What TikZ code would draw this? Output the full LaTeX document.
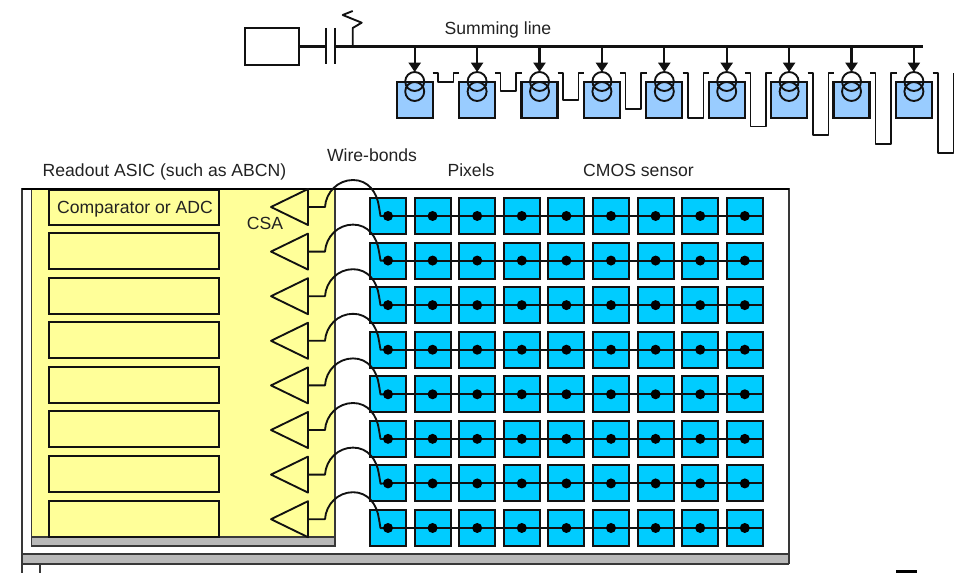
\documentclass[tikz,border=0pt]{standalone}
\usepackage{fontspec}
\setmainfont{Liberation Sans}
\usetikzlibrary{arrows.meta}
\definecolor{asicyellow}{HTML}{FFFF99}
\definecolor{bandgray}{HTML}{B8B8B8}
\definecolor{edgegray}{HTML}{383838}
\definecolor{pixelcyan}{HTML}{00CCFF}
\definecolor{padblue}{HTML}{99CCFF}
\definecolor{inkblack}{HTML}{111111}
\definecolor{labelink}{HTML}{222222}
\tikzset{
  wire/.style={draw=inkblack,line width=1.6pt,line join=round},
  thinwire/.style={draw=inkblack,line width=1.4pt,line join=round},
  edgeline/.style={draw=edgegray,line width=1.4pt},
  label/.style={text=labelink,font=\fontsize{13.2}{15}\selectfont,inner sep=0pt},
  boxcell/.style={draw=inkblack,line width=1.6pt,fill=asicyellow,minimum width=127.5pt,minimum height=27pt,inner sep=0pt,outer sep=0pt},
  pixelcell/.style={draw=inkblack,line width=1.4pt,fill=pixelcyan,minimum width=27pt,minimum height=27pt,inner sep=0pt,outer sep=0pt},
  padcell/.style={draw=inkblack,line width=1.6pt,fill=padblue,minimum width=27pt,minimum height=27.5pt,inner sep=0pt,outer sep=0pt},
  dotmark/.style={circle,fill=black,minimum size=7.5pt,inner sep=0pt,outer sep=0pt},
  coil/.style={circle,draw=inkblack,line width=1.4pt,minimum size=14.25pt,inner sep=0pt,outer sep=0pt},
  downarrow/.style={wire,-{Triangle[length=7pt,width=9pt]}}
}
\begin{document}
\begin{tikzpicture}[x=0.75pt,y=-0.75pt]
\useasboundingbox (0,0) rectangle (960,573);
% outer frame and bottom band
\fill[bandgray] (22,554) rectangle (789,564);
\draw[edgeline] (22,573) -- (22,189) -- (789,189) -- (789,564);
\draw[edgeline] (22,554) -- (789,554);
\draw[edgeline] (22,564) -- (789,564);
\draw[edgeline] (40,564) -- (40,573);
% ASIC
\fill[asicyellow] (31.5,190) rectangle (335,537);
\fill[bandgray] (31.5,537) rectangle (335,546);
\draw[edgeline] (31.5,190) -- (31.5,546) -- (335,546) -- (335,190);
\draw[edgeline] (31.5,537) -- (335,537);
\node[boxcell,minimum height=26pt] (b0) at (134,207.5) {};
\foreach \r in {1,...,7}{
  \node[boxcell] (b\r) at (134,{251+44.6*(\r-1)}) {};
}
\draw[line width=1.7pt,draw=black] (22,189) -- (789,189);
% pixels
\foreach \r in {0,...,7}{
  \foreach \c in {0,...,8}{
    \node[pixelcell] (p\r-\c) at ({388+44.6*\c},{216+44.57*\r}) {};
  }
}
% triangles, wire-bonds, row lines, dots
\foreach \r in {0,...,7}{
  \pgfmathsetmacro{\ty}{207+44.6*\r}
  \coordinate (base\r) at (308,\ty);
  \draw[wire,line width=1.4pt] (308,\ty-18) -- (271,\ty) -- (308,\ty+18) -- cycle;
  \draw[thinwire] (base\r) -- (325,\ty) .. controls (326,\ty-15) and (338,\ty-27) .. (353,\ty-27)
    .. controls (368,\ty-27) and (377,\ty-15) .. (379,\ty) -- (380.5,\ty+9) coordinate (entry\r) -- (p\r-0.center);
  \draw[thinwire] (p\r-0.center) -- (p\r-8.east);
  \foreach \c in {0,...,8}{
    \node[dotmark] at (p\r-\c.center) {};
  }
}
% top circuit
\node[draw=inkblack,line width=1.6pt,minimum width=40.5pt,minimum height=27.5pt,inner sep=0pt,outer sep=0pt] (src) at (272,46.5) {};
\coordinate (capa) at (326,46.5);
\coordinate (capb) at (335,46.5);
\coordinate (busend) at (923,46.5);
\coordinate (stub) at (352.7,46.5);
\draw[wire] (src.east) -- (capa);
\draw[wire] (capa |- 0,28) -- (capa |- 0,64);
\draw[wire] (capb |- 0,28) -- (capb |- 0,64);
\draw[wire] (capb) -- (busend);
\draw[thinwire] (stub) -- (352.7,28) -- (361.7,22.7) -- (342.7,15) -- (352.7,11);
\foreach \i in {0,...,8}{
  \pgfmathsetmacro{\cx}{414.7+62.4*\i}
  \pgfmathsetmacro{\lx}{438+62.5*\i}
  \pgfmathsetmacro{\rx}{453.5+62.5*\i}
  \pgfmathsetmacro{\by}{82+8.9*\i}
  \node[padcell] (pad\i) at (\cx,100) {};
  \node[coil] (up\i) at (\cx,81.5) {};
  \node[coil] (lo\i) at (\cx,91.5) {};
  \coordinate (bus\i) at (\cx,46.5);
  \draw[downarrow] (bus\i) -- (up\i.north);
  \ifnum\i<8
    \draw[thinwire] (\lx-5.5,72.7) -- (\lx,72.7) -- (\lx,\by) -- (\rx,\by) -- (\rx,72.7) -- (\rx+5.5,72.7);
  \else
    \draw[thinwire] (\lx-5.5,72.7) -- (\lx,72.7) -- (\lx,\by) -- (\rx,\by) -- (\rx,72.7);
  \fi
}
% labels
\node[label] (l1) at (498,29.5) {Summing line};
\node[label] (l2) at (372,155.5) {Wire-bonds};
\node[label] (l3) at (164.5,171.5) {Readout ASIC (such as ABCN)};
\node[label] (l4) at (471,170.5) {Pixels};
\node[label] (l5) at (638.5,170.5) {CMOS sensor};
\node[label] (l6) at (265,223.5) {CSA};
\node[label] (l7) at (135,209) {Comparator or ADC};
% cut-off mark
\fill[black] (896,570) rectangle (917,573);
\end{tikzpicture}
\end{document}
